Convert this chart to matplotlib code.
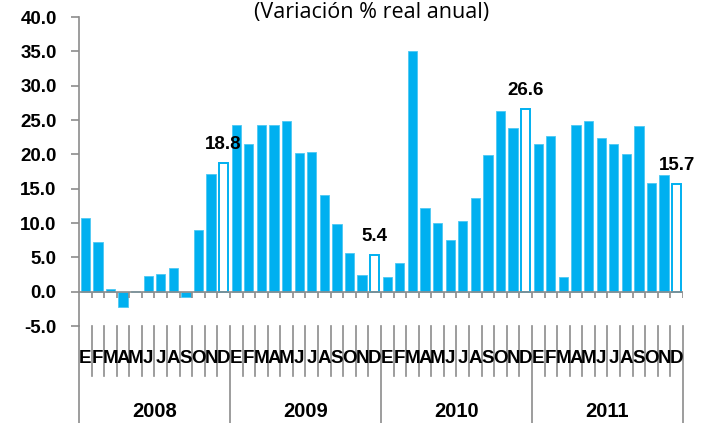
import matplotlib.pyplot as plt
from matplotlib.transforms import blended_transform_factory

years = ["2008", "2009", "2010", "2011"]
months = ["E", "F", "M", "A", "M", "J", "J", "A", "S", "O", "N", "D"]

v2008 = [10.8, 7.2, 0.4, -2.3, 0.1, 2.3, 2.6, 3.4, -0.8, 9.0, 17.1, 18.8]
v2009 = [24.3, 21.5, 24.3, 24.3, 24.8, 20.2, 20.4, 14.1, 9.8, 5.6, 2.4, 5.4]
v2010 = [2.1, 4.2, 35.0, 12.2, 10.0, 7.5, 10.3, 13.6, 19.9, 26.3, 23.9, 26.6]
v2011 = [21.5, 22.6, 2.1, 24.3, 24.8, 22.4, 21.5, 20.1, 24.1, 15.8, 17.0, 15.7]

values = v2008 + v2009 + v2010 + v2011
n = len(values)

BLUE = "#00B0F0"
GRAY = "#8C8C8C"
FONT = "Liberation Sans"

fig = plt.figure(figsize=(7.07, 4.23), dpi=100)
ax = fig.add_axes([0.1117, 0.2293, 0.8543, 0.7305])

for i, v in enumerate(values):
    if i % 12 == 11:
        # December bars: hollow, with value label
        ax.bar(i, v, width=0.72, color="white", edgecolor=BLUE, linewidth=1.4)
        ax.annotate(f"{v:.1f}", (i, v), xytext=(0, 7), textcoords="offset points",
                    ha="center", va="bottom", fontsize=13.5, fontweight="bold",
                    family=FONT)
    else:
        ax.bar(i, v, width=0.74, color=BLUE, edgecolor="#4DC8F3", linewidth=0.6)

ax.set_xlim(-0.5, n - 0.5)
ax.set_ylim(-5, 40)
ax.set_yticks(range(-5, 41, 5))
ax.set_yticklabels([f"{t:.1f}" for t in range(-5, 41, 5)],
                   fontsize=13.5, fontweight="bold", family=FONT)
ax.tick_params(axis="y", length=6, color=GRAY, width=1.2, pad=10)
ax.set_xticks([])

for s in ["top", "right", "bottom"]:
    ax.spines[s].set_visible(False)
ax.spines["left"].set_color(GRAY)
ax.spines["left"].set_linewidth(1.2)

ax.axhline(0, color=GRAY, linewidth=1.2, zorder=3)
ax.vlines([k + 0.5 for k in range(n)], -0.9, 0, color=GRAY, linewidth=1.2, zorder=3)

# category axis below the plot (months, then years)
trans = blended_transform_factory(ax.transData, fig.transFigure)
bot = 0.2293
for k in range(n + 1):
    x = k - 0.5
    y_end = 0.0 if k % 12 == 0 else 0.111
    ax.plot([x, x], [bot, y_end], color=GRAY, linewidth=1.2, transform=trans, clip_on=False)

for i in range(n):
    ax.text(i, 0.152, months[i % 12], transform=trans, ha="center", va="center",
            fontsize=13.5, fontweight="bold", family=FONT)

for k, yr in enumerate(years):
    ax.text(12 * k + 5.5, 0.028, yr, transform=trans, ha="center", va="center",
            fontsize=14.5, fontweight="bold", family=FONT)

fig.text(0.525, 0.958, "(Variación % real anual)", ha="center", va="baseline",
         fontsize=15.5, family="Open Sans")

fig.savefig("out.png", dpi=100)
